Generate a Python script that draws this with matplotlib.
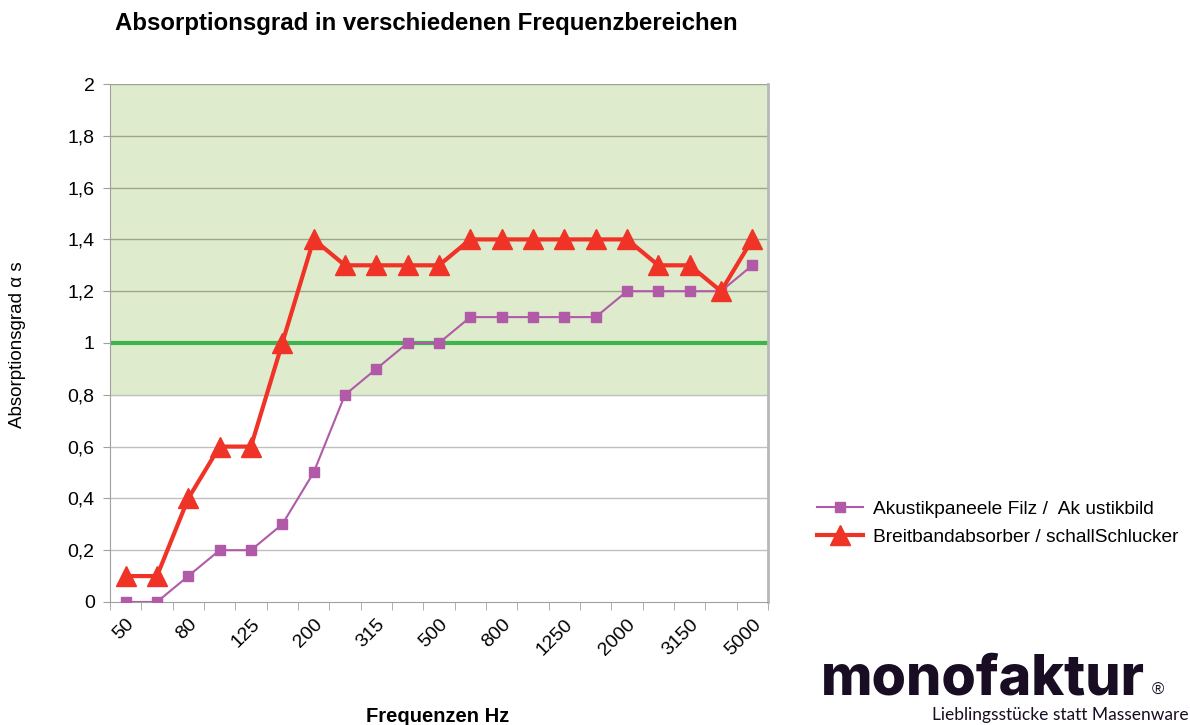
import matplotlib.pyplot as plt
import numpy as np

plt.rcParams['font.family'] = ['Liberation Sans', 'DejaVu Sans']

# Terzband-Frequenzen (Hz)
freqs = ['50', '63', '80', '100', '125', '160', '200', '250', '315', '400', '500',
         '630', '800', '1000', '1250', '1600', '2000', '2500', '3150', '4000', '5000']
filz = [0, 0, 0.1, 0.2, 0.2, 0.3, 0.5, 0.8, 0.9, 1.0, 1.0,
        1.1, 1.1, 1.1, 1.1, 1.1, 1.2, 1.2, 1.2, 1.2, 1.3]
breitband = [0.1, 0.1, 0.4, 0.6, 0.6, 1.0, 1.4, 1.3, 1.3, 1.3, 1.3,
             1.4, 1.4, 1.4, 1.4, 1.4, 1.4, 1.3, 1.3, 1.2, 1.4]
yticks = [0, 0.2, 0.4, 0.6, 0.8, 1, 1.2, 1.4, 1.6, 1.8, 2]
ytick_labels = ['0', '0,2', '0,4', '0,6', '0,8', '1', '1,2', '1,4', '1,6', '1,8', '2']

fig = plt.figure(figsize=(11.9, 7.25), dpi=100)
ax = fig.add_axes([0.0924, 0.1697, 0.5530, 0.7144])

x = np.arange(len(freqs))
ax.set_xlim(-0.5, len(freqs) - 0.5)
ax.set_ylim(0, 2)

# gruener Bereich ab 0,8
ax.axhspan(0.8, 2, color='#dfebcd', zorder=0)

# Gitterlinien
for y in yticks[1:]:
    c = '#9ea58f' if y > 0.8 else '#c0c0c0'
    ax.axhline(y, color=c, lw=1, zorder=1)

ax.axhline(1, color='#3db54a', lw=3, zorder=2)

ax.plot(x, filz, color='#b05aa8', lw=1.5, marker='s', ms=7, zorder=3,
        label='Akustikpaneele Filz /  Ak ustikbild')
ax.plot(x, breitband, color='#ef3327', lw=3, marker='^', ms=14, zorder=4,
        label='Breitbandabsorber / schallSchlucker')

ax.set_yticks(yticks)
ax.set_yticklabels(ytick_labels, fontsize=14)
ax.set_xticks(x[::2])
ax.set_xticklabels(freqs[::2], fontsize=14, rotation=45, ha='right', rotation_mode='anchor')
ax.set_xticks(np.arange(len(freqs) + 1) - 0.5, minor=True)
ax.tick_params(axis='x', which='major', length=0, pad=10)
ax.tick_params(axis='x', which='minor', length=6, color='#a0a0a0')
ax.tick_params(axis='y', length=5, color='#a0a0a0', pad=6)

for s in ['left', 'bottom']:
    ax.spines[s].set_color('#a0a0a0')
ax.spines['top'].set_visible(False)
ax.spines['right'].set_color('#b8b8b8')
ax.spines['right'].set_linewidth(2)

fig.text(0.097, 0.967, 'Absorptionsgrad in verschiedenen Frequenzbereichen',
         fontsize=17.3, fontweight='bold', va='center', ha='left')
fig.text(0.015, 0.524, 'Absorptionsgrad α s', fontsize=13.5, rotation=90,
         va='center', ha='center')
fig.text(0.368, 0.012, 'Frequenzen Hz', fontsize=14.5, fontweight='bold',
         va='center', ha='center')

fig.legend(loc='center left', bbox_to_anchor=(0.672, 0.278), frameon=False,
           fontsize=13.8, handlelength=2.4, handletextpad=0.5, labelspacing=0.55)

# Logo
fig.text(0.690, 0.042, 'monofaktur', fontsize=40, fontweight='heavy',
         family=['Inter', 'DejaVu Sans'], color='#180d22', ha='left', va='baseline')
fig.text(0.968, 0.042, '®', fontsize=12, color='#180d22', ha='left', va='baseline')
fig.text(0.999, 0.003, 'Lieblingsstücke statt Massenware', fontsize=12.5,
         family=['Lato', 'DejaVu Sans'], color='#180d22', ha='right', va='bottom')

fig.savefig('out.png', dpi=100)
